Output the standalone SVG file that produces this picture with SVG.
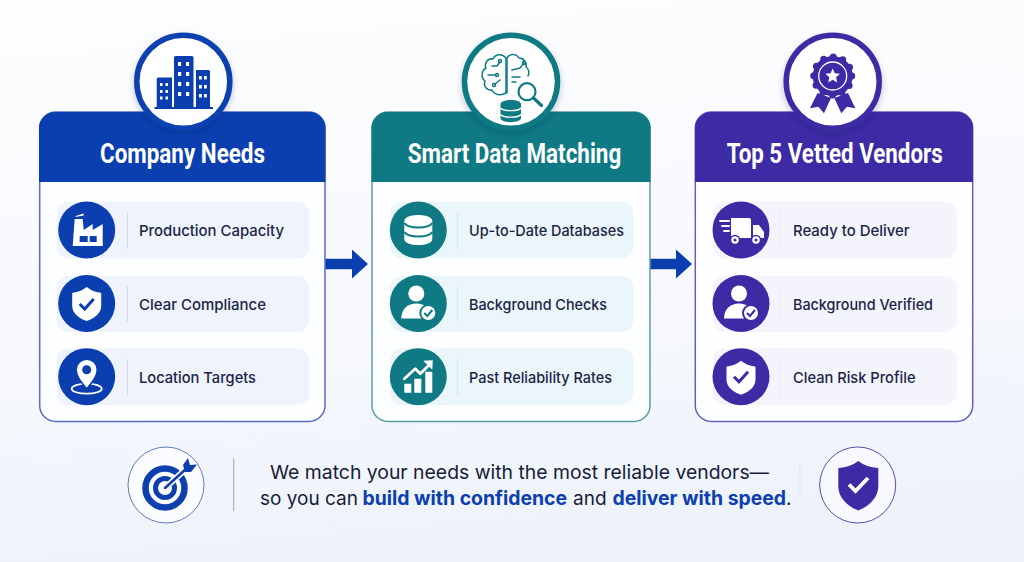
<svg xmlns="http://www.w3.org/2000/svg" width="1024" height="562" viewBox="0 0 1024 562">
<style>
.title{font-family:"Roboto","Liberation Sans",sans-serif;font-size:28px;font-weight:700;fill:#fff}
.label{font-family:"Inter","Noto Sans",sans-serif;font-size:15px;font-weight:450;fill:#1c2547}
.note{font-family:"Inter","Noto Sans",sans-serif;font-size:19px;font-weight:400;fill:#161d3a}
.note .b{font-weight:700;fill:#0d3fae;font-size:19.4px}
.body{fill:#fdfeff;stroke-width:1.5}
.hub{fill:#fff;stroke-width:5.5;filter:url(#sh)}
.div{stroke-width:1;fill:none}
.w{fill:#fff}
.ws{fill:none;stroke:#fff;stroke-linecap:round;stroke-linejoin:round}
</style>
<defs>
<linearGradient id="bg" x1="0" y1="0" x2="0.15" y2="1"><stop offset="0" stop-color="#fcfdfe"/><stop offset="0.6" stop-color="#f7f9fd"/><stop offset="1" stop-color="#eef3fb"/></linearGradient>
<filter id="sh" x="-20%" y="-20%" width="140%" height="150%"><feDropShadow dx="0" dy="3" stdDeviation="3" flood-color="#0a1a50" flood-opacity="0.22"/></filter>
<marker id="head" markerUnits="userSpaceOnUse" markerWidth="17" markerHeight="30" refX="0" refY="14.500" orient="auto"><path d="M0 0L16 14.500L0 29Z" fill="#0b3fb0"/></marker>
<path id="shield" d="M0-16C5-12 10-11 14.500-10V3C14.500 11 7 15.500 0 18C-7 15.500-14.500 11-14.500 3V-10C-10-11-5-12 0-16Z"/>
</defs>
<rect width="1024" height="562" fill="url(#bg)"/>

<g id="connectors">
<line x1="325" y1="264" x2="352" y2="264" stroke="#0b3fb0" stroke-width="10.500" marker-end="url(#head)"/>
<line x1="650" y1="264" x2="676" y2="264" stroke="#0b3fb0" stroke-width="10.500" marker-end="url(#head)"/>
</g>

<g id="company-needs">
<rect class="body" x="39.700" y="112" width="285.300" height="309.500" rx="16" stroke="#5a6cc0"/>
<path d="M39 182V128a16 16 0 0 1 16-16H309.500a16 16 0 0 1 16 16V182Z" fill="#0b3fb0"/>
<circle class="hub" cx="183.300" cy="81.700" r="46.500" stroke="#0b3fb0"/>
<g fill="#0b3fb0">
<path d="M156.700 107V79a1.500 1.500 0 0 1 1.500-1.500H172V107ZM174 107V57.500a1.500 1.500 0 0 1 1.500-1.500H192a1.500 1.500 0 0 1 1.500 1.500V107ZM196 107V70H208.500a1.500 1.500 0 0 1 1.500 1.500V107Z"/>
<rect x="154.500" y="107" width="58.500" height="2"/>
</g>
<g class="w">
<path d="M160 83h2.500v3H160zM165.500 83h2.500v3h-2.500zM160 90h2.500v3H160zM165.500 90h2.500v3h-2.500zM160 96.500h2.500v3H160zM165.500 96.500h2.500v3h-2.500z"/>
<path d="M178 62h3.200v4H178zM186 62h3.200v4H186zM178 72h3.200v4H178zM186 72h3.200v4H186zM178 82h3.200v4H178zM186 82h3.200v4H186zM178 92h3.200v4H178zM186 92h3.200v4H186z"/>
<path d="M199 76h2.800v3.500H199zM204 76h2.800v3.500H204zM199 85h2.800v3.500H199zM204 85h2.800v3.500H204zM199 94h2.800v3.500H199zM204 94h2.800v3.500H204z"/>
</g>
<text class="title" x="100" y="162.500" textLength="165" lengthAdjust="spacingAndGlyphs">Company Needs</text>
</g>
<g id="company-production-capacity">
<rect x="56.700" y="201.700" width="252.500" height="56.500" rx="12" fill="#eff3fc"/>
<line class="div" x1="127.500" y1="212" x2="127.500" y2="249" stroke="#d3daea"/>
<circle cx="86.700" cy="230" r="28.500" fill="#0b3fb0"/>
<g transform="translate(86.700 230)">
<path class="w" d="M-14 16L-12-11H-4L-3 0L6-6V0L16-6V16Z"/>
<path class="w" d="M-11-14L-3-16.500V-14.500L-11-13Z"/>
<path fill="#0b3fb0" d="M-7 6h8v6h-8zM3 6h7v6H3z"/>
</g>
<text class="label" x="139" y="236" textLength="145" lengthAdjust="spacingAndGlyphs">Production Capacity</text>
</g>
<g id="company-clear-compliance">
<rect x="56.700" y="276" width="252.500" height="56" rx="12" fill="#eff3fc"/>
<line class="div" x1="127.500" y1="286" x2="127.500" y2="322" stroke="#d3daea"/>
<circle cx="86.700" cy="303.500" r="28.500" fill="#0b3fb0"/>
<g transform="translate(86.700 303)">
<use href="#shield" fill="#fff"/>
<path d="M-7 1L-2 6L7-4" fill="none" stroke="#0b3fb0" stroke-width="3"/>
</g>
<text class="label" x="139" y="310" textLength="127" lengthAdjust="spacingAndGlyphs">Clear Compliance</text>
</g>
<g id="company-location-targets">
<rect x="56.700" y="348.500" width="252.500" height="56.500" rx="12" fill="#eff3fc"/>
<line class="div" x1="127.500" y1="359" x2="127.500" y2="396" stroke="#d3daea"/>
<circle cx="86.700" cy="376.700" r="28.500" fill="#0b3fb0"/>
<g transform="translate(86.700 376.700)">
<ellipse cx="0" cy="12" rx="15" ry="5" fill="none" stroke="#fff" stroke-width="1.800"/>
<path class="w" d="M0 12C-5 6-10.500 0-10.500-7A10.500 10.500 0 0 1 10.500-7C10.500 0 5 6 0 12Z" stroke="#0b3fb0" stroke-width="1.500"/>
<circle cx="0" cy="-7" r="4.500" fill="#0b3fb0"/>
</g>
<text class="label" x="139" y="383" textLength="117" lengthAdjust="spacingAndGlyphs">Location Targets</text>
</g>

<g id="smart-data-matching">
<rect class="body" x="372" y="112" width="278" height="309.500" rx="16" stroke="#5f9ca3"/>
<path d="M371.500 182V128a16 16 0 0 1 16-16H634.500a16 16 0 0 1 16 16V182Z" fill="#0f7a84"/>
<circle class="hub" cx="511" cy="81.700" r="46.500" stroke="#0f7a84"/>
<g fill="none" stroke="#0f7a84" stroke-width="1.500" stroke-linecap="round" stroke-linejoin="round">
<path d="M506 58C502 53 495 54 493 59C487 58 484 64 486 68C481 71 481 78 485 81C483 86 487 91 492 90C494 95 501 96 506 93Z"/>
<path d="M507 93V58C510 53 517 54 519 58C524 58 527 63 526 67C529 69 529.500 73 528 76"/>
<path d="M492 66H497L500 62M488 75H496M495 84L500 80M512 77H520M512 82H516M512 70L520 68L524 63"/>
<circle cx="500" cy="61" r="1.500"/><circle cx="497" cy="75" r="1.500"/><circle cx="494" cy="85" r="1.500"/><circle cx="524" cy="63" r="1.500"/>
</g>
<circle cx="527" cy="91.700" r="8.500" fill="#fff" stroke="#0f7a84" stroke-width="2.200"/>
<path d="M533.500 98L541.500 105.500" stroke="#0f7a84" stroke-width="3.200" stroke-linecap="round"/>
<g fill="#0f7a84">
<path d="M500.500 104C500.500 98.500 521 98.500 521 104V118C521 123.500 500.500 123.500 500.500 118Z"/>
</g>
<path d="M500.500 108C503 111.500 518.500 111.500 521 108M500.500 114.500C503 118 518.500 118 521 114.500" fill="none" stroke="#fff" stroke-width="1.300"/>
<text class="title" x="407.700" y="162.500" textLength="213.500" lengthAdjust="spacingAndGlyphs">Smart Data Matching</text>
</g>
<g id="smart-databases">
<rect x="390" y="201.700" width="243.500" height="56.500" rx="12" fill="#eaf6f9"/>
<line class="div" x1="457.500" y1="212" x2="457.500" y2="249" stroke="#d4e6ea"/>
<circle cx="418.300" cy="230" r="28.500" fill="#0f7a84"/>
<g transform="translate(418.300 230)">
<path class="w" d="M-14-9C-14-17 14-17 14-9V9C14 17-14 17-14 9Z"/>
<path d="M-14-7C-10-1 10-1 14-7M-14 2C-10 8 10 8 14 2" fill="none" stroke="#0f7a84" stroke-width="2"/>
</g>
<text class="label" x="469" y="236" textLength="155" lengthAdjust="spacingAndGlyphs">Up-to-Date Databases</text>
</g>
<g id="smart-background-checks">
<rect x="390" y="276" width="243.500" height="56" rx="12" fill="#eaf6f9"/>
<line class="div" x1="457.500" y1="286" x2="457.500" y2="322" stroke="#d4e6ea"/>
<circle cx="418.300" cy="303.500" r="28.500" fill="#0f7a84"/>
<g transform="translate(418.300 303.500)">
<circle class="w" cx="-2" cy="-10" r="8"/>
<path class="w" d="M-17 15C-17 5-10 0-2 0C6 0 13 5 13 15Z"/>
<circle cx="10" cy="9.500" r="8" fill="#fff" stroke="#0f7a84" stroke-width="2"/>
<path d="M6 9.500L9 12.500L14 6.500" fill="none" stroke="#0f7a84" stroke-width="2"/>
</g>
<text class="label" x="469" y="310" textLength="138" lengthAdjust="spacingAndGlyphs">Background Checks</text>
</g>
<g id="smart-reliability-rates">
<rect x="390" y="348.500" width="243.500" height="56.500" rx="12" fill="#eaf6f9"/>
<line class="div" x1="457.500" y1="359" x2="457.500" y2="396" stroke="#d4e6ea"/>
<circle cx="418.300" cy="376.700" r="28.500" fill="#0f7a84"/>
<g transform="translate(418.300 376.700)">
<path class="w" d="M-14 7h7v9h-7zM-4 2h7v14h-7zM7-5h7v21h-7z"/>
<path class="ws" d="M-14 2L-3-8L2-3L12-13" stroke-width="2.800"/>
<path class="w" d="M5-16L14.500-16.500L14-7Z"/>
</g>
<text class="label" x="469" y="383" textLength="143" lengthAdjust="spacingAndGlyphs">Past Reliability Rates</text>
</g>

<g id="top-5-vetted-vendors">
<rect class="body" x="695.300" y="112" width="277.400" height="309.500" rx="16" stroke="#6a5dbb"/>
<path d="M695 182V128a16 16 0 0 1 16-16H957a16 16 0 0 1 16 16V182Z" fill="#3d2aa5"/>
<circle class="hub" cx="832.700" cy="81.700" r="46.500" stroke="#3d2aa5"/>
<g fill="#3d2aa5">
<path d="M817.500 93L810 108.300L818.300 106.700L824 113.300L831 98Z"/>
<path d="M848 93L855.300 108.300L847 106.700L841.300 113.300L834.300 98Z"/>
<circle cx="832.700" cy="76" r="20"/>
</g>
<circle cx="832.700" cy="76" r="19" fill="none" stroke="#3d2aa5" stroke-width="7" stroke-dasharray="0 9.948" stroke-linecap="round"/>
<circle cx="832.700" cy="76" r="14" fill="none" stroke="#fff" stroke-width="1.300"/>
<path class="w" d="M832.700 68.500L834.800 73.300L840 73.800L836.100 77.300L837.200 82.400L832.700 79.800L828.200 82.400L829.300 77.300L825.400 73.800L830.600 73.300Z"/>
<text class="title" x="726.700" y="162.500" textLength="216" lengthAdjust="spacingAndGlyphs">Top 5 Vetted Vendors</text>
</g>
<g id="vendors-ready">
<rect x="713" y="201.700" width="243.700" height="56.500" rx="12" fill="#f3f4fc"/>
<line class="div" x1="780" y1="212" x2="780" y2="249" stroke="#ecedf7"/>
<circle cx="741" cy="230" r="28.500" fill="#3d2aa5"/>
<g transform="translate(741 230)">
<path class="w" d="M-10-12H8a2 2 0 0 1 2 2V8H-10Z"/>
<path class="w" d="M12-5H18L23 2V8H12Z"/>
<path class="ws" d="M-21-9H-12M-19-4H-12M-17 1H-12" stroke-width="1.800"/>
<circle cx="-6" cy="10" r="4.500" fill="#fff" stroke="#3d2aa5" stroke-width="1.500"/>
<circle cx="15" cy="10" r="4.500" fill="#fff" stroke="#3d2aa5" stroke-width="1.500"/>
<circle cx="-6" cy="10" r="1.500" fill="#3d2aa5"/>
<circle cx="15" cy="10" r="1.500" fill="#3d2aa5"/>
</g>
<text class="label" x="793" y="236" textLength="116.500" lengthAdjust="spacingAndGlyphs">Ready to Deliver</text>
</g>
<g id="vendors-verified">
<rect x="713" y="276" width="243.700" height="56" rx="12" fill="#f3f4fc"/>
<line class="div" x1="780" y1="286" x2="780" y2="322" stroke="#ecedf7"/>
<circle cx="741" cy="303.500" r="28.500" fill="#3d2aa5"/>
<g transform="translate(741 303.500)">
<circle class="w" cx="-2" cy="-10" r="8"/>
<path class="w" d="M-17 15C-17 5-10 0-2 0C6 0 13 5 13 15Z"/>
<circle cx="10" cy="9.500" r="8" fill="#fff" stroke="#3d2aa5" stroke-width="2"/>
<path d="M6 9.500L9 12.500L14 6.500" fill="none" stroke="#3d2aa5" stroke-width="2"/>
</g>
<text class="label" x="793" y="310" textLength="140" lengthAdjust="spacingAndGlyphs">Background Verified</text>
</g>
<g id="vendors-clean-risk">
<rect x="713" y="348.500" width="243.700" height="56.500" rx="12" fill="#f3f4fc"/>
<line class="div" x1="780" y1="359" x2="780" y2="396" stroke="#ecedf7"/>
<circle cx="741" cy="376.700" r="28.500" fill="#3d2aa5"/>
<g transform="translate(741 376.700)">
<use href="#shield" fill="#fff"/>
<path d="M-7 0L-2 5L7-5" fill="none" stroke="#3d2aa5" stroke-width="3"/>
</g>
<text class="label" x="793" y="383" textLength="122.500" lengthAdjust="spacingAndGlyphs">Clean Risk Profile</text>
</g>

<g id="footer-target">
<circle cx="166" cy="485" r="38" fill="#fbfcff" stroke="#5f7cb8" stroke-width="1"/>
<circle cx="165" cy="488" r="19.500" fill="none" stroke="#0d3fae" stroke-width="6.500"/>
<circle cx="165" cy="488" r="9.500" fill="none" stroke="#0d3fae" stroke-width="5"/>
<path d="M165 488L187 468" stroke="#fbfcff" stroke-width="6"/>
<path d="M165 488L187 468" stroke="#0d3fae" stroke-width="2.500" stroke-linecap="round"/>
<path d="M183 465L188 458L190 465L197 464.500L191 472L185 472Z" fill="#0d3fae"/>
</g>
<line class="div" x1="233.700" y1="458" x2="233.700" y2="511" stroke="#9aa6bb"/>
<g id="footer-note">
<text class="note" x="270" y="478.500" textLength="499" lengthAdjust="spacingAndGlyphs">We match your needs with the most reliable vendors—</text>
<text class="note" y="505"><tspan x="260">so you can </tspan><tspan class="b" x="362.500">build with confidence </tspan><tspan x="573">and </tspan><tspan class="b" x="612.500">deliver with speed</tspan><tspan>.</tspan></text>
</g>
<line class="div" x1="800" y1="460" x2="800" y2="500" stroke="#e2e7f2"/>
<g id="footer-shield">
<circle cx="857.700" cy="485" r="38" fill="#f8f9fe" stroke="#5a4fa8" stroke-width="1"/>
<path fill="#3d2aa5" d="M858.300 461C864 465.500 871 467.500 878.300 468V486C878.300 498 869 506 858.300 510.500C847.500 506 838.300 498 838.300 486V468C845.500 467.500 852.500 465.500 858.300 461Z"/>
<path d="M849 484.500L855.500 491L868 478" fill="none" stroke="#fff" stroke-width="3.800"/>
</g>
</svg>
